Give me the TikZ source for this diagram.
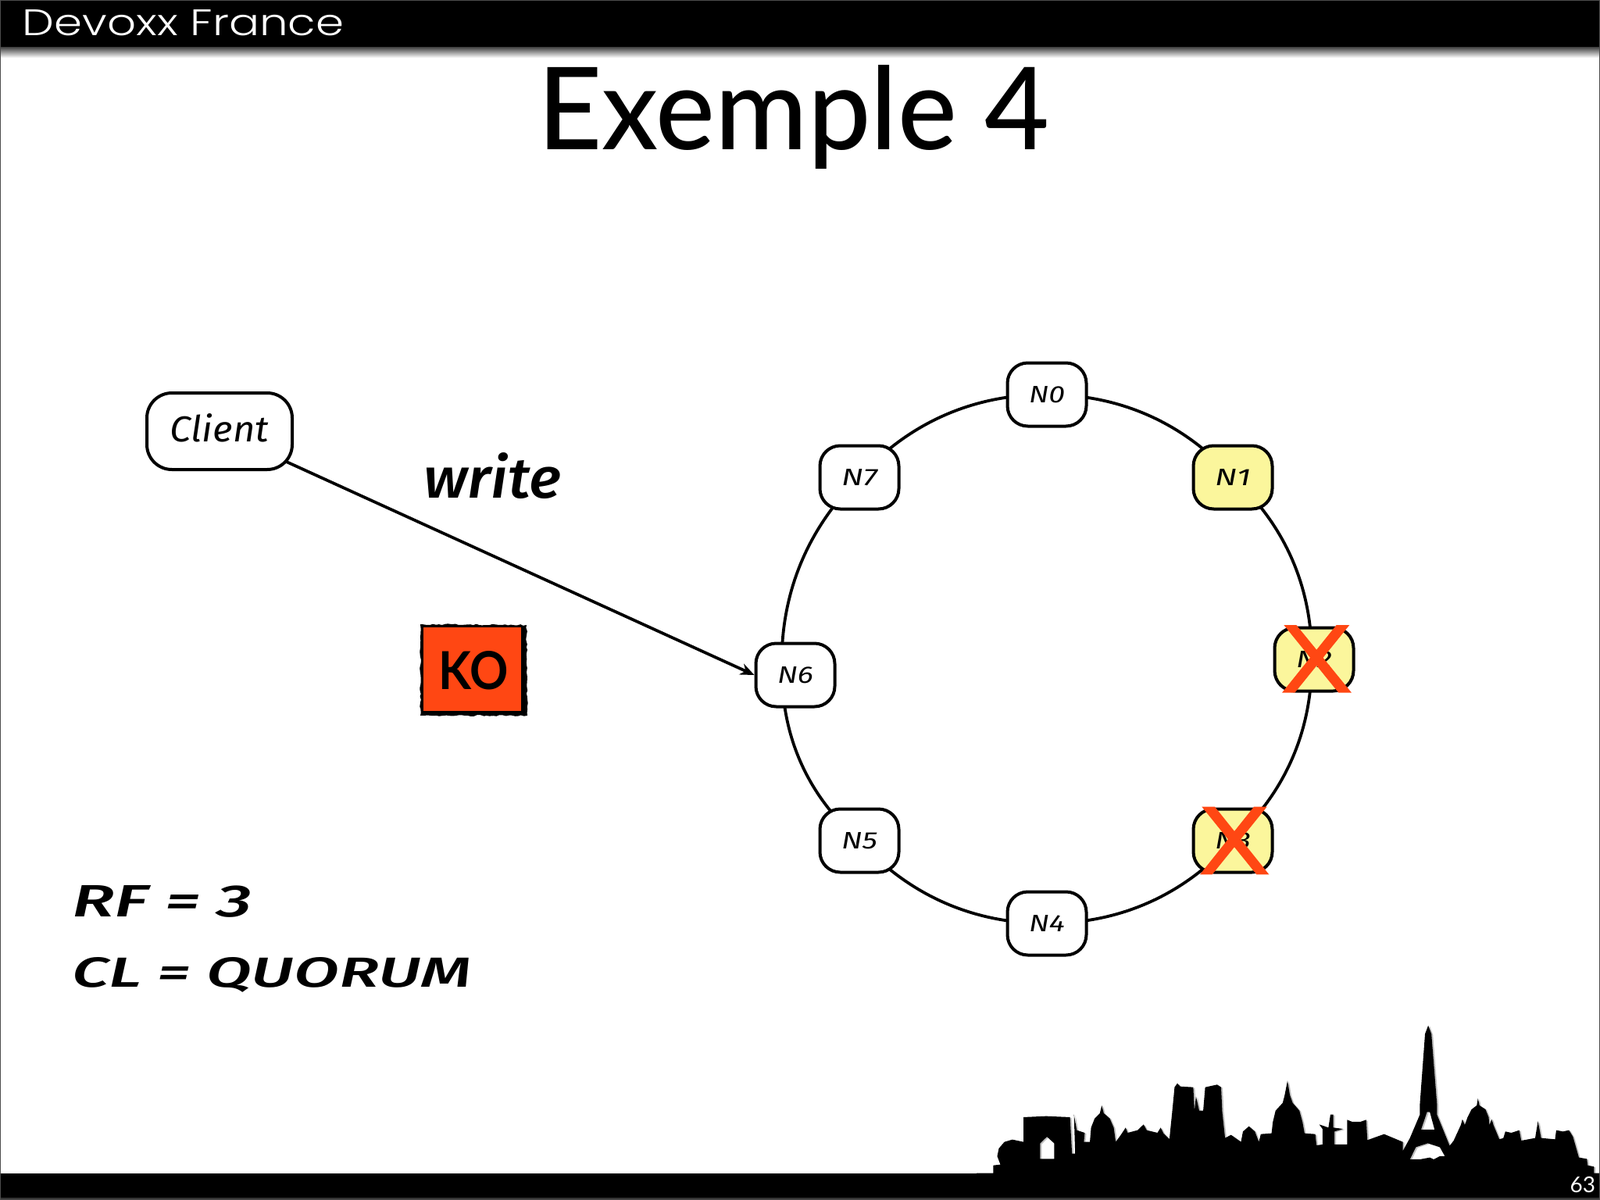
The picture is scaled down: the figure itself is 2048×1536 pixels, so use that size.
\documentclass[tikz,border=0pt]{standalone}
\usepackage{fontspec}
\usepackage{graphicx}
\usetikzlibrary{arrows.meta,backgrounds,decorations.pathmorphing}
\setmainfont{Lato}
\newfontfamily\barfont{Poppins Light}
\newfontfamily\handfont{Fira Sans Medium}
\newfontfamily\smallhandfont{Fira Sans}
\newfontfamily\titlefont{Lato Medium}
\newcommand{\fitwh}[3]{\resizebox{#1pt}{#2pt}{#3}}
\newcommand{\handwh}[3]{\resizebox{#1pt}{#2pt}{\handfont\itshape #3}}
\newcommand{\handlabel}[4]{\raisebox{-#3pt}[0pt][0pt]{\resizebox{#1pt}{#2pt}{\smallhandfont\itshape #4}}}
\definecolor{koRed}{HTML}{FF4713}
\definecolor{nodeYellow}{HTML}{FBF69C}
\tikzset{
  ringnode/.style={draw=black,line width=4pt,fill=white,rounded corners=26pt,minimum width=101pt,minimum height=81pt,inner sep=0pt},
  clientnode/.style={ringnode,minimum width=186pt,minimum height=98pt,rounded corners=32pt},
  hotnode/.style={ringnode,fill=nodeYellow},
  ringline/.style={line width=3.8pt,black},
  ringarc/.style={ringline,bend left=24,looseness=0.92},
  cross/.style={fill=koRed,draw=none},
  plain/.style={inner sep=0pt,outer sep=0pt},
  roughedge/.style={decorate,decoration={random steps,segment length=4pt,amplitude=0.9pt}}
}
\newcommand{\skylinepath}{
 (0,665) -- (42,665) -- (42,635) -- (60,632) -- (52,600) -- (56,570) -- (70,545) -- (90,536) -- (118,545) -- (118,450) -- (175,446) -- (235,450) -- (240,590) -- (248,590) -- (245,440) -- (252,500) -- (272,510) -- (270,545) -- (285,545) -- (288,490) -- (297,455) -- (310,435) -- (315,405) -- (320,435) -- (335,455) -- (345,490) -- (350,545) -- (362,520) -- (375,490) -- (380,510) -- (405,500) -- (420,478) -- (428,500) -- (455,510) -- (463,490) -- (470,512) -- (485,535) -- (492,430) -- (498,335) -- (505,320) -- (512,332) -- (545,335) -- (548,425) -- (552,370) -- (560,425) -- (570,425) -- (575,335) -- (605,325) -- (615,335) -- (618,430) -- (625,530) -- (640,518) -- (665,545) -- (670,505) -- (685,485) -- (700,505) -- (710,545) -- (715,515) -- (742,512) -- (745,470) -- (752,425) -- (770,395) -- (775,365) -- (782,310) -- (788,365) -- (795,395) -- (812,425) -- (820,470) -- (825,512) -- (852,515) -- (855,558) -- (870,555) -- (870,495) -- (862,478) -- (885,490) -- (890,440) -- (897,440) -- (897,490) -- (922,495) -- (900,505) -- (900,555) -- (932,555) -- (932,460) -- (945,468) -- (965,468) -- (980,460) -- (983,538) -- (1025,515) -- (1072,545) -- (1072,580) -- (1090,530) -- (1115,440) -- (1115,400) -- (1128,130) -- (1136,98) -- (1144,130) -- (1158,400) -- (1158,440) -- (1190,560) -- (1200,540) -- (1218,480) -- (1222,458) -- (1228,480) -- (1235,450) -- (1245,420) -- (1258,405) -- (1261,378) -- (1265,405) -- (1280,420) -- (1288,450) -- (1290,480) -- (1296,458) -- (1300,480) -- (1315,535) -- (1325,530) -- (1330,505) -- (1345,510) -- (1365,500) -- (1370,540) -- (1405,530) -- (1412,465) -- (1420,530) -- (1455,535) -- (1458,500) -- (1475,505) -- (1490,500) -- (1500,525) -- (1515,605) -- (1535,610) -- (1537,635) -- (1553,640) -- (1553,665) -- (1568,665) -- (1568,758) -- (0,758) -- cycle
 (160,610) -- (160,550) -- (177,525) -- (195,550) -- (195,610) -- cycle
 (1118,498) -- (1133,430) -- (1140,430) -- (1152,498) -- cycle
 (1090,612) -- (1105,565) -- (1135,550) -- (1165,565) -- (1178,600) -- (1165,600) -- (1150,612) -- (1140,605) -- (1115,612) -- cycle
}
\begin{document}
\begin{tikzpicture}[x=1pt,y=-1pt]
\useasboundingbox (0,0) rectangle (2048,1536);
\begin{pgfonlayer}{background}
\fill[white] (0,0) rectangle (2048,1536);
\end{pgfonlayer}
% top bar
\shade[top color=black!75,bottom color=white,shading angle=0] (0,60) rectangle (2048,74);
\fill[black] (0,0) rectangle (2048,60);
% skyline
\begin{scope}[shift={(1250,1280)},x=0.5089pt,y=-0.3333pt]
 \fill[black!25,even odd rule,xshift=2pt,yshift=-1pt] \skylinepath;
 \fill[black,even odd rule] \skylinepath;
\end{scope}
\fill[black] (0,1502) rectangle (2048,1533);
\fill[black!80] (0,1533) rectangle (2048,1536);
\draw[black!70,line width=2pt] (0,0) rectangle (2048,1536);
% texts of frame
\node[plain,anchor=base west,text=white] (brand) at (29,46) {\fitwh{411}{33}{\barfont Devoxx France}};
\node[plain,anchor=base] (title) at (1016,192) {\fitwh{655}{108}{\titlefont Exemple 4}};
\node[plain,anchor=base east,text=white,font=\fontsize{28}{30}\selectfont] (pageno) at (2042,1526) {63};
% nodes
\node[clientnode] (client) at (281,552) {\handlabel{126}{36}{13}{Client}};
\node[ringnode] (n0) at (1340,505) {\handlabel{46}{21}{10}{N0}};
\node[hotnode]  (n1) at (1578,611) {\handlabel{46}{21}{10}{N1}};
\node[hotnode]  (n2) at (1682,844) {\handlabel{46}{21}{10}{N2}};
\node[hotnode]  (n3) at (1578,1076) {\handlabel{46}{21}{10}{N3}};
\node[ringnode] (n4) at (1340,1182) {\handlabel{46}{21}{10}{N4}};
\node[ringnode] (n5) at (1100,1076) {\handlabel{46}{21}{10}{N5}};
\node[ringnode] (n6) at (1018,864) {\handlabel{46}{21}{10}{N6}};
\node[ringnode] (n7) at (1100,611) {\handlabel{46}{21}{10}{N7}};
% connectors
\begin{pgfonlayer}{background}
\draw[ringarc] (n0.center) to (n1.center);
\draw[ringarc] (n1.center) to ([xshift=-3pt]n2.center);
\draw[ringarc] ([xshift=-3pt]n2.center) to (n3.center);
\draw[ringarc] (n3.center) to (n4.center);
\draw[ringarc] (n4.center) to (n5.center);
\draw[ringarc] (n5.center) to ([xshift=-17pt]n6.center);
\draw[ringarc] ([xshift=-17pt]n6.center) to (n7.center);
\draw[ringarc] (n7.center) to (n0.center);
\draw[ringline,-{Stealth[length=18pt,width=15pt]}] (client.center) -- (n6.west);
\end{pgfonlayer}
% crosses
\begin{scope}[shift={(1500,760)},x=0.3333pt,y=-0.3333pt]
 \fill[cross] (430,120) -- (478,120) -- (690,380) -- (640,380) -- cycle;
 \fill[cross] (632,120) -- (682,120) -- (472,380) -- (423,380) -- cycle;
 \fill[cross] (115,818) -- (165,818) -- (373,1078) -- (325,1078) -- cycle;
 \fill[cross] (315,818) -- (365,818) -- (155,1078) -- (108,1078) -- cycle;
\end{scope}
% free labels
\node[plain,anchor=base west] (write) at (542,637) {\handwh{176}{58}{write}};
\node[plain,anchor=base west] (rf) at (92,1173) {\handwh{231}{40}{RF = 3}};
\node[plain,anchor=base west] (cl) at (92,1263) {\handwh{512}{38}{CL = QUORUM}};
% KO box
\fill[black,roughedge] (538,799) -- (674,800) -- (675,916) -- (538,916) -- cycle;
\node[plain,fill=koRed,anchor=north west,minimum width=125pt,minimum height=107pt] (kobox) at (542,803) {};
\node[plain,anchor=base] (ko) at (606,882) {\fitwh{89}{49}{\bfseries KO}};
\end{tikzpicture}
\end{document}
